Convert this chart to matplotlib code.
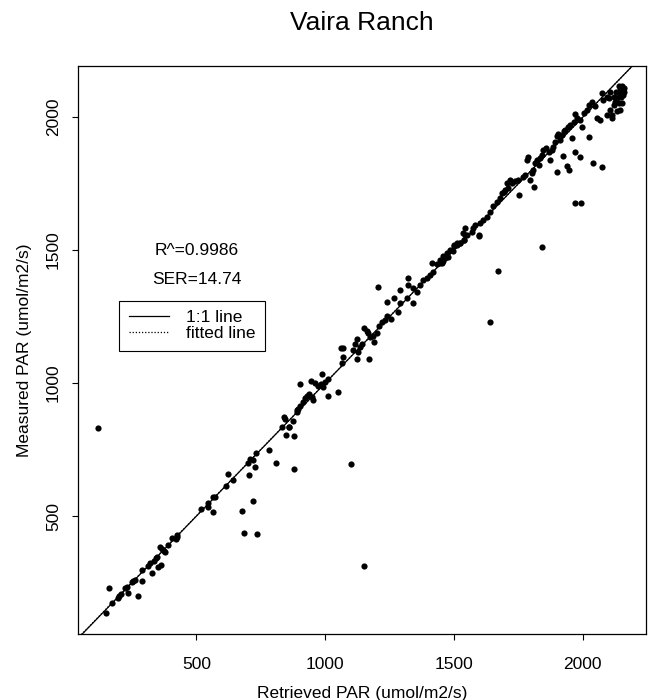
import matplotlib
matplotlib.use("Agg")
import matplotlib.pyplot as plt
from matplotlib.lines import Line2D
import numpy as np

plt.rcParams['font.family'] = ['Liberation Sans', 'DejaVu Sans']

title = "Vaira Ranch"
x_label = "Retrieved PAR (umol/m2/s)"
y_label = "Measured PAR (umol/m2/s)"
ticks = [500, 1000, 1500, 2000]
stats_lines = ["R^=0.9986", "SER=14.74"]
legend_labels = ["1:1 line", "fitted line"]
fit_slope, fit_intercept = 0.999, 1.5

# retrieved PAR (x) and measured PAR (y)
retrieved = [
    119, 149, 161, 171, 194, 200, 206, 223, 229, 236, 249, 255, 262, 272, 288,
    290, 313, 320, 329, 335, 343, 348, 352, 361, 359, 365, 374, 379, 391, 404,
    423, 421, 426, 518, 544, 546, 566, 566, 573, 614, 621, 641, 676, 684, 702,
    708, 719, 705, 720, 726, 731, 737, 782, 808, 832, 840, 843, 848, 860, 876,
    878, 878, 890, 896, 861, 889, 902, 902, 915, 922, 931, 938, 948, 954, 945,
    960, 973, 983, 990, 999, 1012, 987, 1012, 1051, 1064, 1068, 1060, 1070, 1100, 1109,
    1116, 1125, 1126, 1135, 1143, 1125, 1151, 1161, 1167, 1174, 1187, 1200, 1190, 1169, 1152,
    1204, 1210, 1220, 1232, 1241, 1255, 1241, 1267, 1284, 1291, 1291, 1317, 1323, 1323, 1340,
    1342, 1355, 1368, 1381, 1394, 1407, 1420, 1414, 1433, 1446, 1456, 1465, 1478, 1495, 1500,
    1511, 1524, 1539, 1543, 1569, 1595, 1640, 1672, 1842, 1970, 1994, 2041, 2074, 1899, 1939,
    1948, 1922, 1970, 1987, 2025, 1753, 1812, 1446, 1459, 1472, 1452, 1485, 1498, 1511, 1524,
    1539, 1534, 1543, 1550, 1575, 1582, 1595, 1601, 1614, 1627, 1640, 1653, 1666, 1679, 1685,
    1698, 1705, 1711, 1724, 1737, 1750, 1767, 1776, 1789, 1796, 1808, 1821, 1828, 1834, 1847,
    1858, 1867, 1873, 1886, 1893, 1899, 1902, 1912, 1918, 1925, 1931, 1944, 1951, 1957, 1964,
    1970, 1977, 1990, 1996, 2003, 2016, 2022, 2035, 2048, 2054, 2065, 2074, 2080, 2093, 2106,
    2100, 2113, 2119, 2126, 2132, 2139, 2145, 2152, 2155, 2158, 2152, 2145, 2132, 2119, 2106,
    2093, 2113, 2142, 2129, 2158, 2139, 2148, 1718, 1692, 1783, 1802, 1815, 1841, 1880,
]
measured = [
    830, 135, 229, 172, 191, 200, 207, 229, 232, 210, 253, 257, 260, 201, 257,
    297, 312, 323, 285, 332, 341, 347, 310, 315, 383, 375, 370, 366, 391, 417,
    429, 413, 423, 526, 550, 535, 517, 571, 571, 613, 658, 636, 519, 435, 699,
    714, 711, 655, 557, 686, 736, 433, 749, 701, 834, 872, 864, 805, 834, 859,
    801, 678, 893, 902, 834, 899, 915, 996, 930, 943, 952, 959, 949, 937, 1009,
    999, 989, 997, 987, 1005, 1014, 1034, 952, 968, 1075, 1097, 1131, 1131, 696, 1125,
    1147, 1165, 1118, 1137, 1147, 1090, 1206, 1197, 1187, 1175, 1177, 1187, 1156, 1090, 312,
    1360, 1216, 1231, 1237, 1252, 1240, 1303, 1319, 1269, 1300, 1350, 1319, 1369, 1396, 1356,
    1302, 1344, 1369, 1388, 1394, 1406, 1419, 1453, 1447, 1453, 1460, 1469, 1473, 1498, 1515,
    1519, 1526, 1538, 1557, 1569, 1553, 1231, 1423, 1511, 1678, 1676, 1826, 1811, 1794, 1816,
    1801, 1854, 1870, 1849, 1924, 1706, 1739, 1463, 1476, 1488, 1451, 1501, 1520, 1528, 1526,
    1538, 1563, 1582, 1557, 1582, 1595, 1557, 1601, 1614, 1626, 1645, 1664, 1682, 1695, 1714,
    1726, 1751, 1733, 1754, 1758, 1764, 1776, 1783, 1849, 1764, 1801, 1839, 1820, 1845, 1877,
    1883, 1870, 1839, 1889, 1908, 1927, 1937, 1914, 1933, 1946, 1952, 1964, 1971, 1920, 1983,
    2012, 1996, 1989, 1964, 2015, 2027, 2046, 2058, 2040, 1996, 1989, 2090, 2065, 2077, 2096,
    2071, 2008, 2046, 2058, 2021, 2090, 2102, 2115, 2083, 2096, 2052, 2027, 2071, 2077, 2027,
    2008, 1996, 2115, 2096, 2108, 2052, 2075, 1764, 1720, 1839, 1789, 1827, 1858, 1877,
]

fig = plt.figure(figsize=(6.5, 7), dpi=100)
ax = fig.add_axes([0.1195, 0.0936, 0.8743, 0.8125])

ax.scatter(retrieved, measured, s=20, color='black', linewidths=0, zorder=3)

ax.set_xlim(39, 2245)
ax.set_ylim(55, 2193)

ax.axline((0, 0), slope=1, color='black', linewidth=0.9, zorder=2)
ax.axline((0, fit_intercept), slope=fit_slope, color='black', linewidth=0.9,
          linestyle=(0, (1, 1.5)), zorder=2)

ax.set_xticks(ticks)
ax.set_yticks(ticks)
ax.tick_params(axis='both', direction='out', length=4, width=0.8, labelsize=12.5, colors='black')
ax.tick_params(axis='x', pad=12)
ax.tick_params(axis='y', pad=8)
for lab in ax.get_yticklabels():
    lab.set_rotation(90)
    lab.set_va('center')
for sp in ax.spines.values():
    sp.set_linewidth(0.9)

ax.set_xlabel(x_label, fontsize=12.5, labelpad=10)
ax.set_ylabel(y_label, fontsize=12.5, labelpad=10)
fig.text(0.557, 0.967, title, ha='center', va='center', fontsize=19)

ax.text(500, 1500, stats_lines[0], ha='center', va='center', fontsize=12.5)
ax.text(500, 1390, stats_lines[1], ha='center', va='center', fontsize=12.5)

handles = [
    Line2D([], [], color='black', linewidth=0.9),
    Line2D([], [], color='black', linewidth=0.9, linestyle=(0, (1, 1.5))),
]
leg = ax.legend(handles, legend_labels, loc='upper left', bbox_to_anchor=(200, 1310),
                bbox_transform=ax.transData, borderaxespad=0, fontsize=12.5,
                frameon=True, fancybox=False, edgecolor='black', framealpha=1,
                handlelength=2.3, handletextpad=1.0, labelspacing=0.05, borderpad=0.55)
leg.get_frame().set_linewidth(0.8)

fig.savefig("out.png", dpi=100)
